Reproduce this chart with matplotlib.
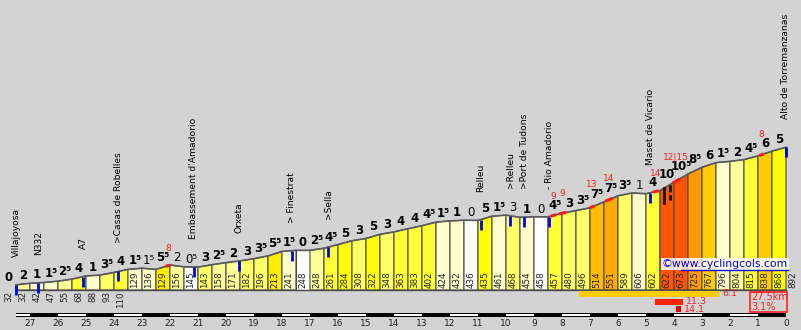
import numpy as np
import matplotlib
matplotlib.use("Agg")
import matplotlib.pyplot as plt
from matplotlib.patches import Polygon, Rectangle

# altitude in m every 0.5 km, from 28 km to the summit (first piece is the approach)
altitudes = [32, 32, 42, 47, 55, 68, 88, 93, 110, 129, 136, 129, 156, 145, 143,
             158, 171, 182, 196, 213, 241, 248, 248, 261, 284, 308, 322, 348,
             363, 383, 402, 424, 432, 436, 435, 461, 468, 454, 458, 457, 480,
             496, 514, 551, 589, 606, 602, 622, 673, 725, 767, 796, 804, 815,
             838, 868, 892]
distances = np.arange(28.0, -0.25, -0.5)  # km to the top

# gradient labels of each 0.5 km piece
gradient_labels = ["0", "2", "1", "1⁵", "2⁵", "4", "1", "3⁵", "4", "1⁵",
                   "1⁵", "5⁵", "2", "0⁵", "3", "2⁵", "2", "3", "3⁵", "5⁵",
                   "1⁵", "0", "2⁵", "4⁵", "5", "3", "5", "3", "4", "4",
                   "4⁵", "1⁵", "1", "0", "5", "1⁵", "3", "1", "0", "4⁵",
                   "3", "3⁵", "7⁵", "7⁵", "3⁵", "1", "4", "10", "10⁵", "8⁵",
                   "6", "1⁵", "2", "4⁵", "6", "5"]

place_names = ["Villajoyosa", "N332", "A7", ">Casas de Robelles",
               "Embassement d'Amadorio", "Orxeta", "> Finestrat", ">Sella",
               "Relleu", ">Relleu", ">Port de Tudons", "- Rio Amadorio",
               "Maset de Vicario", "Alto de Torremanzanas"]
place_km = [27.5, 26.7, 25.1, 23.85, 21.15, 19.55, 17.65, 16.35, 10.9, 9.85,
            9.35, 8.45, 4.85, 0.0]

# steepest 100 m pieces
steep_from = [22.15, 8.4, 8.1, 7.0, 6.45, 4.75, 4.05, 0.95]
steep_to = [22.0, 8.2, 7.85, 6.85, 6.2, 4.55, 3.8, 0.8]
steep_labels = ["8", "9", "9", "13", "14", "14", "12|15", "8"]

black_marks = [4.36, 4.14]

# best 5 km / 1 km / 100 m
best_from = [7.39, 4.68, 3.93]
best_to = [2.39, 3.68, 3.75]
best_labels = ["6.1", "11.3", "14.1"]

km_ticks = list(range(27, -1, -1))
total_length = "27.5km"
average = "3.1%"

PX_KM = 28.0   # pixels per km
PX_M = 0.16    # pixels per m


def slope_colour(g):
    g = abs(g)
    steps = [(0.5, "#ffffff"), (1.75, "#ffffcc"), (2.75, "#ffff99"),
             (3.75, "#ffff66"), (4.75, "#ffff33"), (5.25, "#ffff00"),
             (5.75, "#ffee00"), (6.5, "#ffcc00"), (7.5, "#ffbb00"),
             (8.0, "#ffaa00"), (9.0, "#ff9900"), (10.0, "#ff7700")]
    for limit, col in steps:
        if g < limit:
            return col
    return "#ff5500"


def height_at(d):
    return np.interp(d, distances[::-1], altitudes[::-1])


fig = plt.figure(figsize=(8.01, 3.30), dpi=100)
fig.patch.set_facecolor("#d3d3d3")
ax = fig.add_axes([0, 0, 1, 1])
ax.set_facecolor("#d3d3d3")
ax.set_xlim(786 / PX_KM, -15 / PX_KM)
ax.set_ylim(-40 / PX_M, 290 / PX_M)
ax.axis("off")

# profile pieces
for k in range(1, len(altitudes) - 1):
    d0, d1 = distances[k], distances[k + 1]
    h0, h1 = altitudes[k], altitudes[k + 1]
    g = (h1 - h0) / 5.0
    ax.add_patch(Polygon([(d0, 0), (d0, h0), (d1, h1), (d1, 0)],
                         closed=True, facecolor=slope_colour(g),
                         edgecolor="#4a4a4a", linewidth=0.8, zorder=2))
ax.plot(distances[1:], altitudes[1:], color="#5a5a5a", linewidth=1.2, zorder=3)
ax.plot([distances[1], 0], [0, 0], color="#4a4a4a", linewidth=1.0, zorder=3)

# altitude labels
for d, h in zip(distances, altitudes):
    if h * PX_M >= 19:
        ax.annotate(str(h), (d - 0.25, 0), xytext=(0, 2),
                    textcoords="offset pixels", rotation=90, ha="center",
                    va="bottom", fontsize=6.3, color="#222222", zorder=5)
    else:
        ax.annotate(str(h), (d - 0.25, 0), xytext=(0, -1),
                    textcoords="offset pixels", rotation=90, ha="center",
                    va="top", fontsize=6.3, color="#222222", zorder=5)

# gradient labels
for k, lab in enumerate(gradient_labels):
    top = max(altitudes[k], altitudes[k + 1])
    up = altitudes[k + 1] >= altitudes[k]
    ax.annotate(lab, (distances[k] - 0.25, top), xytext=(0, 1),
                textcoords="offset pixels", ha="center", va="bottom",
                fontsize=8.5, fontweight="bold" if up else "normal",
                color="black", zorder=5)

# steep pieces
for a, b, lab in zip(steep_from, steep_to, steep_labels):
    dd = np.linspace(a, b, 6)
    ax.plot(dd, height_at(dd), color="#ff1a1a", linewidth=2.2,
            solid_capstyle="butt", zorder=4)
    mid = (a + b) / 2
    k = int((28.0 - mid) // 0.5)
    top = max(altitudes[k], altitudes[k + 1])
    ax.annotate(lab, (mid, top), xytext=(0, 17), textcoords="offset pixels",
                ha="center", va="center", fontsize=6.5, color="#ff2020",
                zorder=5)

# places
for name, d in zip(place_names, place_km):
    h = height_at(d)
    ax.plot([d, d], [h, h - 10 / PX_M], color="#0000ee", linewidth=2,
            solid_capstyle="butt", zorder=4)
    ax.annotate(name, (d, h), xytext=(0, 28), textcoords="offset pixels",
                rotation=90, ha="center", va="bottom", fontsize=6.6,
                color="black", zorder=5)

for i, d in enumerate(black_marks):
    h = height_at(d)
    ax.plot([d, d], [h, h - 15 / PX_M], color="#111111", linewidth=2,
            linestyle="-" if i == 0 else (0, (2.5, 1)), zorder=4)

# best stretches
bar_rows = [(-1, -7), (-9, -15), (-16, -22)]
bar_cols = ["#ffcc00", "#ff2200", "#dd0000"]
for a, b, lab, (y0, y1), col in zip(best_from, best_to, best_labels,
                                     bar_rows, bar_cols):
    ax.add_patch(Rectangle((b, y1 / PX_M), a - b, (y0 - y1) / PX_M,
                           facecolor=col, edgecolor="none", zorder=3))
    ax.annotate(lab, (b, (y0 + y1) / 2 / PX_M), xytext=(3, 0),
                textcoords="offset pixels", ha="left", va="center",
                fontsize=6.8, color="#ff2020", zorder=5)

# total box
ax.add_patch(Rectangle((0.0 - 1 / PX_KM, -22 / PX_M), 37 / PX_KM, 20 / PX_M,
                       facecolor="none", edgecolor="#ff2020", linewidth=1.2,
                       zorder=5))
ax.annotate(total_length, (34.5 / PX_KM, -7 / PX_M), ha="left", va="center",
            fontsize=7, color="#ff2020", zorder=6)
ax.annotate(average, (34.5 / PX_KM, -16.5 / PX_M), ha="left", va="center",
            fontsize=7, color="#ff2020", zorder=6)

# km scale: black bar, white every other km
bar_top, bar_bot = -23 / PX_M, -27 / PX_M
ax.add_patch(Rectangle((0, bar_bot), distances[1], bar_top - bar_bot,
                       facecolor="black", edgecolor="none", zorder=3))
for lo in range(0, 28):
    if lo % 2 == 1:
        hi = min(lo + 1, distances[1])
        ax.add_patch(Rectangle((lo, bar_bot + 1 / PX_M), hi - lo,
                               bar_top - bar_bot - 2 / PX_M,
                               facecolor="white", edgecolor="none", zorder=4))
for t in km_ticks:
    ax.annotate(str(t), (t, 0), xytext=(0, -33), textcoords="offset pixels",
                ha="center", va="center", fontsize=6.5, color="#222222")

# watermark
wm_y = (290 - 264) / PX_M
ax.annotate("©www.cyclingcols.com", (-2 / PX_KM, wm_y), ha="right",
            va="center", fontsize=7.8, color="#0000ee", zorder=7,
            bbox=dict(facecolor="white", alpha=0.85, edgecolor="none", pad=0.5))
ax.plot([105 / PX_KM, -2 / PX_KM], [wm_y - 6 / PX_M] * 2, color="#0000ee",
        linewidth=1, zorder=7)
fig.savefig("out.png", dpi=100, facecolor=fig.get_facecolor())
